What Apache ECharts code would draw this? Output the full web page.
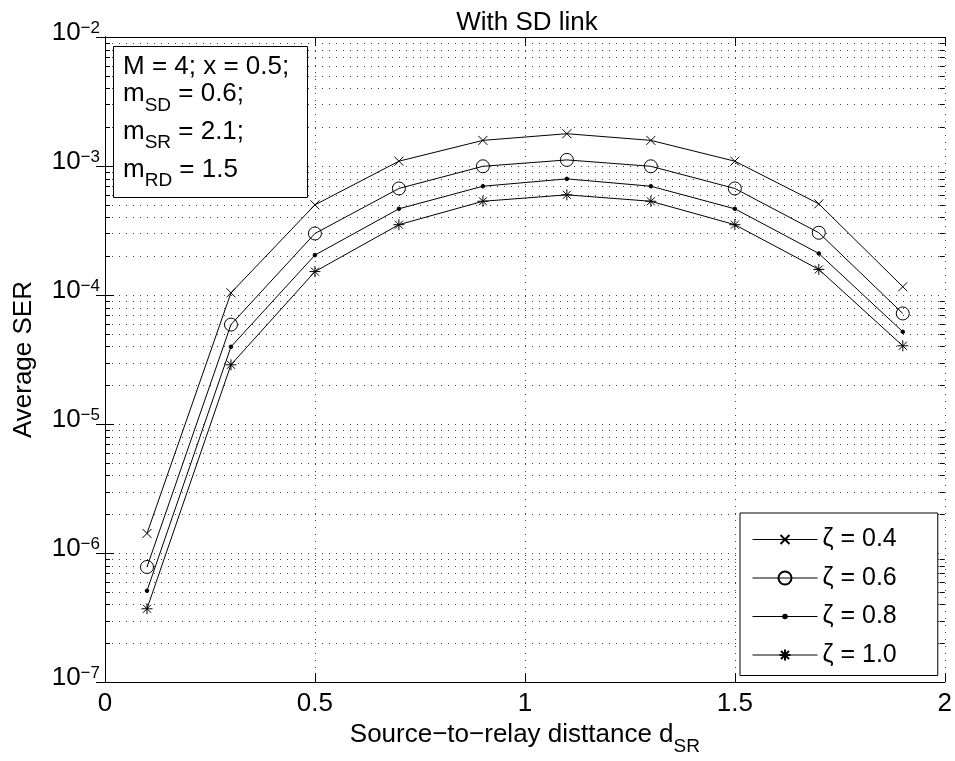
<!DOCTYPE html>
<html>
<head>
<meta charset="utf-8">
<script src="https://cdn.jsdelivr.net/npm/echarts@6/dist/echarts.min.js"></script>
<style>
html,body{margin:0;padding:0;background:#fff;}
#chart{width:955px;height:761px;}
</style>
</head>
<body>
<div id="chart"></div>
<script>
// ---- data ----
const xValues = [0.1, 0.3, 0.5, 0.7, 0.9, 1.1, 1.3, 1.5, 1.7, 1.9];
const zeta04 = [1.42e-6, 1.04e-4, 5.0e-4, 1.09e-3, 1.58e-3, 1.78e-3, 1.58e-3, 1.09e-3, 5.09e-4, 1.16e-4];
const zeta06 = [7.8e-7, 5.9e-5, 3.0e-4, 6.7e-4, 9.95e-4, 1.115e-3, 9.95e-4, 6.7e-4, 3.04e-4, 7.2e-5];
const zeta08 = [5.1e-7, 3.97e-5, 2.04e-4, 4.66e-4, 6.97e-4, 7.95e-4, 6.97e-4, 4.66e-4, 2.1e-4, 5.19e-5];
const zeta10 = [3.7e-7, 2.88e-5, 1.52e-4, 3.51e-4, 5.33e-4, 5.98e-4, 5.33e-4, 3.51e-4, 1.58e-4, 4.04e-5];
const seriesNames = ['ζ = 0.4', 'ζ = 0.6', 'ζ = 0.8', 'ζ = 1.0'];
const xTicks = [0, 0.5, 1, 1.5, 2];
const yMin = 1e-7, yMax = 1e-2;
const titleText = 'With SD link';
const xName = 'Source−to−relay disttance d';
const xNameSub = 'SR';
const yName = 'Average SER';

// minor tick values of the log axis (2..9 within each decade)
const minorTicks = [];
for (let e = -7; e <= -3; e++) for (let k = 2; k <= 9; k++) minorTicks.push(k * Math.pow(10, e));

const FONT = 'Liberation Sans, Arial, Helvetica, sans-serif';
const box = 'M-8,-8L-8,-8M8,8L8,8';
const symCross = 'path://' + box + 'M-4.5,-4.5L4.5,4.5M4.5,-4.5L-4.5,4.5';
const symCircle = 'path://' + box + 'M6.5,0A6.5,6.5,0,1,1,-6.5,0A6.5,6.5,0,1,1,6.5,0Z';
const symDot = 'path://' + box + 'M1.8,0A1.8,1.8,0,1,1,-1.8,0A1.8,1.8,0,1,1,1.8,0Z';
const symStar = 'path://' + box + 'M0,-5.5L0,5.5M-5.5,0L5.5,0M-4,-4L4,4M4,-4L-4,4';

function mk(name, vals, sym, fill) {
  return {
    name: name, type: 'line', symbol: sym, symbolSize: 16, showSymbol: true, showAllSymbol: true,
    data: xValues.map((x, i) => [x, vals[i]]),
    lineStyle: {color: '#000', width: 1},
    itemStyle: {color: fill, borderColor: '#000', borderWidth: 1},
    emphasis: {disabled: true}, z: 3, animation: false
  };
}

const subRich = function () {
  return {m: {fontSize: 26, fontFamily: FONT, lineHeight: 26, verticalAlign: 'top'},
          s: {fontSize: 19, fontFamily: FONT, lineHeight: 19, verticalAlign: 'top', padding: [15, 0, 0, 0]}};
};

const chart = echarts.init(document.getElementById('chart'), null, {renderer: 'canvas'});
const dotted = {color: '#444', width: 1, type: [1, 6]};
const option = {
  backgroundColor: '#fff',
  animation: false,
  textStyle: {fontFamily: FONT},
  grid: {left: 105, right: 8, top: 37, bottom: 77, containLabel: false},
  graphic: [
    {type: 'text', x: 527, y: 23, z: 10, style: {text: titleText, font: '26px ' + FONT, fill: '#000', align: 'center', verticalAlign: 'middle'}},
    {type: 'rect', z: 10, shape: {x: 113.5, y: 46.5, width: 194, height: 151}, style: {fill: '#fff', stroke: '#000', lineWidth: 1}},
    {type: 'text', z: 11, x: 123, y: 67, style: {text: 'M = 4; x = 0.5;', font: '26px ' + FONT, fill: '#000', verticalAlign: 'middle'}},
    {type: 'text', z: 11, x: 123, y: 81, style: {text: '{m|m}{s|SD}{m| = 0.6;}', fill: '#000', verticalAlign: 'top', rich: subRich()}},
    {type: 'text', z: 11, x: 123, y: 118.6, style: {text: '{m|m}{s|SR}{m| = 2.1;}', fill: '#000', verticalAlign: 'top', rich: subRich()}},
    {type: 'text', z: 11, x: 123, y: 156.6, style: {text: '{m|m}{s|RD}{m| = 1.5}', fill: '#000', verticalAlign: 'top', rich: subRich()}}
  ],
  legend: {
    data: seriesNames, orient: 'vertical', left: 740, top: 513, selectedMode: false,
    itemWidth: 65, itemHeight: 20, itemGap: 13.5,
    padding: [14, 41, 8, 12],
    borderColor: '#000', borderWidth: 1, backgroundColor: '#fff', z: 10,
    textStyle: {fontSize: 25, color: '#000', fontFamily: FONT, lineHeight: 20},
    lineStyle: {color: '#000', width: 1}
  },
  xAxis: [
    {type: 'value', min: xTicks[0], max: xTicks[xTicks.length - 1], interval: 0.5,
     name: '{a|' + xName + '}{s|' + xNameSub + '}', nameLocation: 'middle', nameGap: 37,
     nameTextStyle: {color: '#000', rich: {a: {fontSize: 26, fontFamily: FONT, lineHeight: 26, verticalAlign: 'top'}, s: {fontSize: 19, fontFamily: FONT, lineHeight: 19, verticalAlign: 'top', padding: [15, 0, 0, 0]}}},
     axisLine: {lineStyle: {color: '#000', width: 1}},
     axisTick: {inside: true, length: 9, lineStyle: {color: '#000'}},
     axisLabel: {fontSize: 26, color: '#000', margin: 9, fontFamily: FONT, formatter: v => String(v)},
     splitLine: {show: true, lineStyle: dotted}},
    {type: 'value', position: 'top', min: xTicks[0], max: xTicks[xTicks.length - 1], interval: 0.5,
     axisLine: {lineStyle: {color: '#000', width: 1}},
     axisTick: {inside: true, length: 9, lineStyle: {color: '#000'}},
     axisLabel: {show: false}, splitLine: {show: false}}
  ],
  yAxis: [
    {type: 'log', logBase: 10, min: yMin, max: yMax,
     name: yName, nameLocation: 'middle', nameGap: 68, nameRotate: 90,
     nameTextStyle: {fontSize: 26, color: '#000', fontFamily: FONT},
     axisLine: {show: true, lineStyle: {color: '#000', width: 1}},
     axisTick: {show: true, inside: true, length: 9, lineStyle: {color: '#000'}},
     axisLabel: {margin: 5, color: '#000', padding: [0, 0, 9, 0],
       formatter: v => { const e = Math.round(Math.log10(v)); return '{b|10}{s|−' + (-e) + '}'; },
       rich: {b: {fontSize: 26, fontFamily: FONT, lineHeight: 26, verticalAlign: 'bottom'},
              s: {fontSize: 17, fontFamily: FONT, lineHeight: 17, verticalAlign: 'top', padding: [0, 0, 18, 0]}}},
     splitLine: {show: true, lineStyle: dotted}},
    {type: 'log', logBase: 10, min: yMin, max: yMax, position: 'right',
     axisLine: {show: true, lineStyle: {color: '#000', width: 1}},
     axisTick: {show: true, inside: true, length: 9, lineStyle: {color: '#000'}},
     axisLabel: {show: false}, splitLine: {show: false}}
  ],
  series: [
    {
      type: 'custom', name: 'minor', silent: true, z: 1, xAxisIndex: 0, yAxisIndex: 0,
      data: minorTicks.map(v => [0, v]), encode: {x: 0, y: 1}, clip: false,
      renderItem: function (params, api) {
        const cs = params.coordSys;
        const y = Math.round(api.coord([0, api.value(1)])[1]) + 0.5;
        return {type: 'group', children: [
          {type: 'line', shape: {x1: cs.x, y1: y, x2: cs.x + cs.width, y2: y}, style: {stroke: '#444', lineWidth: 1, lineDash: [1, 6]}},
          {type: 'line', shape: {x1: cs.x, y1: y, x2: cs.x + 5, y2: y}, style: {stroke: '#000', lineWidth: 1}},
          {type: 'line', shape: {x1: cs.x + cs.width - 5, y1: y, x2: cs.x + cs.width, y2: y}, style: {stroke: '#000', lineWidth: 1}}
        ]};
      }
    },
    mk(seriesNames[0], zeta04, symCross, '#000'),
    mk(seriesNames[1], zeta06, symCircle, 'rgba(0,0,0,0)'),
    mk(seriesNames[2], zeta08, symDot, '#000'),
    mk(seriesNames[3], zeta10, symStar, '#000')
  ]
};
chart.setOption(option);
</script>
</body>
</html>
